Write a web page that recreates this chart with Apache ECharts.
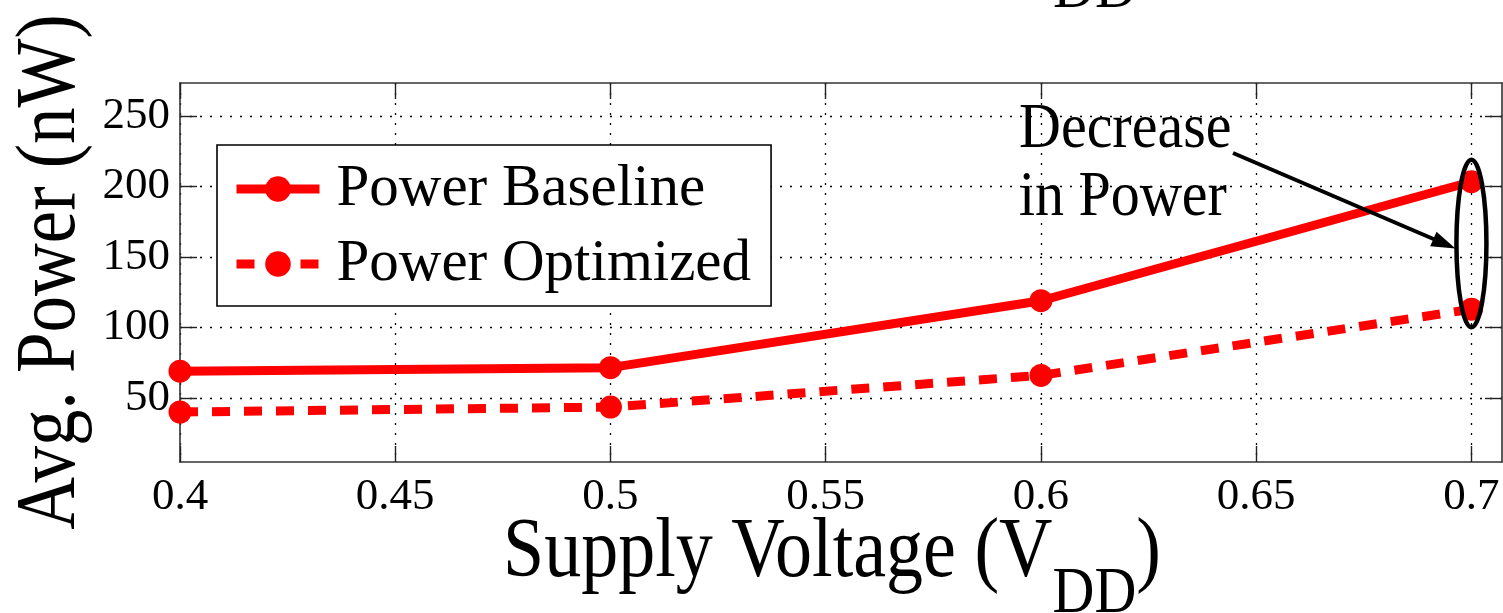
<!DOCTYPE html>
<html><head><meta charset="utf-8">
<script src="https://cdn.jsdelivr.net/npm/echarts@6/dist/echarts.min.js"></script>
<style>html,body{margin:0;padding:0;background:#fff}#c{width:1503px;height:613px}</style>
</head><body><div id="c"></div>
<script>
const voltages = [0.4, 0.5, 0.6, 0.7];
const powerBaseline = [69, 71.5, 119, 203.5];
const powerOptimized = [40, 43.5, 66, 113];
const xTicks = [0.4, 0.45, 0.5, 0.55, 0.6, 0.65, 0.7];
const yTicks = [50, 100, 150, 200, 250];
const seriesNames = ['Power Baseline', 'Power Optimized'];
const xTitleMain = 'Supply Voltage (V';
const xTitleSub = 'DD';
const yTitle = 'Avg. Power (nW)';
const noteText = 'Decrease\nin Power';
const topRemnant = 'DD';

const FONT = '"Liberation Serif", "DejaVu Serif", serif';
const RED = '#ff0000';
const xRange = [0.4, 0.7071];
const yRange = [4.5, 273.6];

const chart = echarts.init(document.getElementById('c'), null, {renderer: 'canvas'});

const gridLine = {show: true, lineStyle: {color: '#000', width: 1.3, type: [2, 8]}};
const axisLine = {show: true, onZero: false, lineStyle: {color: '#333', width: 1.6}};
const tickStyle = {color: '#222', width: 1.4};

const option = {
  animation: false,
  backgroundColor: '#fff',
  grid: {left: 180, right: 1, top: 83, bottom: 151, containLabel: false},
  xAxis: [
    {type: 'value', min: xRange[0], max: xRange[1], position: 'bottom',
     axisLine: axisLine,
     axisTick: {show: true, inside: true, length: 16, lineStyle: tickStyle, customValues: xTicks},
     axisLabel: {show: true, customValues: xTicks, margin: 13, color: '#000', fontFamily: FONT, fontSize: 45,
                 formatter: v => String(Math.round(v * 100) / 100)},
     splitLine: gridLine},
    {type: 'value', min: xRange[0], max: xRange[1], position: 'top',
     axisLine: axisLine,
     axisTick: {show: true, inside: true, length: 16, lineStyle: tickStyle, customValues: xTicks},
     axisLabel: {show: false}, splitLine: {show: false}}
  ],
  yAxis: [
    {type: 'value', min: yRange[0], max: yRange[1], position: 'left',
     axisLine: axisLine,
     axisTick: {show: true, inside: true, length: 17, lineStyle: tickStyle, customValues: yTicks},
     axisLabel: {show: true, customValues: yTicks, margin: 10, color: '#000', fontFamily: FONT, fontSize: 45},
     splitLine: gridLine},
    {type: 'value', min: yRange[0], max: yRange[1], position: 'right',
     axisLine: axisLine,
     axisTick: {show: true, inside: true, length: 17, lineStyle: tickStyle, customValues: yTicks},
     axisLabel: {show: false}, splitLine: {show: false}}
  ],
  legend: {
    left: 217, top: 145, orient: 'vertical',
    data: seriesNames,
    backgroundColor: '#fff', borderColor: '#000', borderWidth: 1.6,
    padding: [14, 20, 12, 15], itemGap: 15,
    itemWidth: 83, itemHeight: 32,
    lineStyle: {width: 9},
    textStyle: {color: '#000', fontFamily: FONT, fontSize: 59, lineHeight: 60, padding: [0, 0, 0, 12]}
  },
  series: [
    {name: seriesNames[0], type: 'line', xAxisIndex: 0, yAxisIndex: 0,
     data: voltages.map((v, i) => [v, powerBaseline[i]]),
     symbol: 'circle', symbolSize: 23, z: 3,
     lineStyle: {color: RED, width: 9, type: 'solid'},
     itemStyle: {color: RED}},
    {name: seriesNames[1], type: 'line', xAxisIndex: 0, yAxisIndex: 0,
     data: voltages.map((v, i) => [v, powerOptimized[i]]),
     symbol: 'circle', symbolSize: 23, z: 3,
     lineStyle: {color: RED, width: 9, type: [18, 14]},
     itemStyle: {color: RED}}
  ]
};
chart.setOption(option);

// annotations
const last = voltages.length - 1;
const pTop = chart.convertToPixel({gridIndex: 0}, [voltages[last], powerBaseline[last]]);
const pBot = chart.convertToPixel({gridIndex: 0}, [voltages[last], powerOptimized[last]]);
const cx = pTop[0];
const topY = pTop[1] - 22, botY = pBot[1] + 18;
const cy = (topY + botY) / 2, ry = (botY - topY) / 2;
const tipX = cx - 16, tipY = cy + 5;
const startX = 1233, startY = 153;
const dx = tipX - startX, dy = tipY - startY, len = Math.hypot(dx, dy);
const ux = dx / len, uy = dy / len, hl = 24, hw = 8;
const bx = tipX - ux * hl, by = tipY - uy * hl;

chart.setOption({
  graphic: [
    {type: 'ellipse', shape: {cx: cx, cy: cy, rx: 15, ry: ry}, z: 100,
     style: {fill: 'none', stroke: '#000', lineWidth: 4.5}},
    {type: 'line', shape: {x1: startX, y1: startY, x2: bx + ux * 2, y2: by + uy * 2}, z: 100,
     style: {stroke: '#000', lineWidth: 4}},
    {type: 'polygon', z: 100,
     shape: {points: [[tipX, tipY], [bx - uy * hw, by + ux * hw], [bx + uy * hw, by - ux * hw]]},
     style: {fill: '#000'}},
    {type: 'text', x: 1019, y: 96, scaleY: 1.1, z: 100,
     style: {text: noteText, fill: '#000', font: '58px ' + FONT, lineHeight: 62}},
    {type: 'text', x: 1053, y: -42, scaleY: 1.1, z: 100,
     style: {text: topRemnant, fill: '#000', font: '58px ' + FONT}},
    {type: 'text', x: 52, y: 272, rotation: Math.PI / 2, scaleY: 1.15, z: 100,
     style: {text: yTitle, fill: '#000', font: '73px ' + FONT, align: 'center', verticalAlign: 'middle'}},
    {type: 'text', x: 503, y: 512, scaleY: 1.13, z: 100,
     style: {
       text: '{a|' + xTitleMain + '}{b|' + xTitleSub + '}{a|)}',
       rich: {
         a: {fontFamily: FONT, fontSize: 74, fill: '#000', verticalAlign: 'top'},
         b: {fontFamily: FONT, fontSize: 58, fill: '#000', verticalAlign: 'top', padding: [44, 0, 0, 0]}
       }
     }}
  ]
});
</script>
</body></html>
